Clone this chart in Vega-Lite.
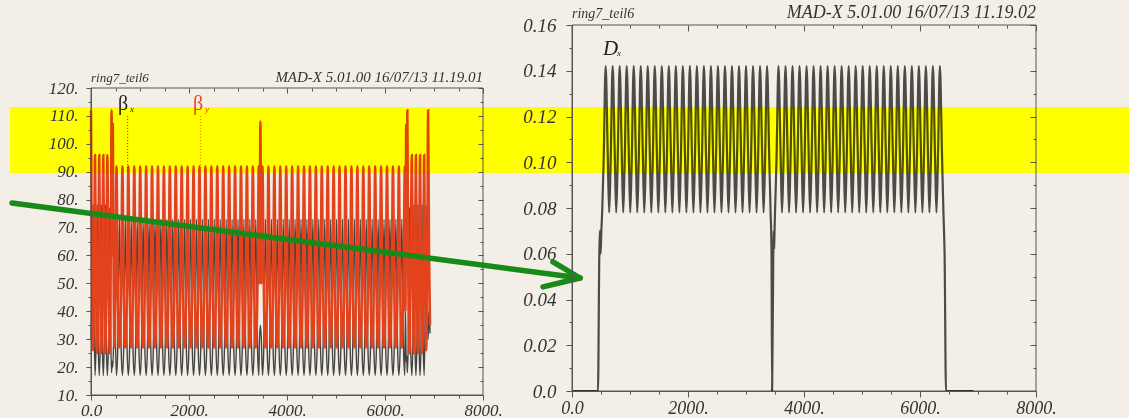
{
"$schema":"https://vega.github.io/schema/vega-lite/v6.json",
"width":1129,"height":418,"autosize":{"type":"none"},"padding":0,
"background":"#f4efe6",
"config":{"view":{"stroke":null},"font":"Liberation Serif","axis":{"labelOverlap":false,"zindex":1,"grid":false,"tickCount":200}},
"datasets":{"lat":[
{"s":0,"bx":30,"by":112,"dx":0},{"s":20,"bx":50,"by":50},{"s":42,"bx":78,"by":26},{"s":62,"bx":40,"by":50},{"s":82,"bx":17,"by":96},{"s":104,"bx":30,"by":50},{"s":125,"bx":78,"by":25},{"s":147,"bx":30,"by":50},{"s":168,"bx":17,"by":96},{"s":190,"bx":30,"by":50},{"s":210,"bx":78,"by":25},{"s":230,"bx":30,"by":50},{"s":251,"bx":17,"by":96},{"s":272,"bx":30,"by":50},{"s":292,"bx":78,"by":25},{"s":312,"bx":30,"by":50},{"s":333,"bx":17,"by":96},{"s":358,"bx":30,"by":50},{"s":384,"bx":77,"by":25},{"s":404,"bx":30,"by":60},{"s":420,"bx":18,"by":112},{"s":432,"bx":22,"by":60},{"s":445,"bx":20,"by":107},{"s":448,"dx":0},{"s":462,"bx":30,"by":50},{"s":470,"dx":0.058},{"s":480,"bx":72,"by":27,"dx":0.07},{"s":494,"dx":0.06},{"s":500,"bx":30,"by":50},{"s":506,"dx":0.07},
{"s":520,"bx":17,"by":92,"dx":0.078},{"s":545,"bx":26,"by":50,"dx":0.1},{"s":580,"bx":73,"by":27,"dx":0.142},{"s":616,"bx":26,"by":50,"dx":0.104},
{"s":641,"bx":17,"by":92,"dx":0.078},{"s":666,"bx":26,"by":50,"dx":0.1},{"s":701,"bx":73,"by":27,"dx":0.142},{"s":737,"bx":26,"by":50,"dx":0.104},
{"s":762,"bx":17,"by":92,"dx":0.078},{"s":787,"bx":26,"by":50,"dx":0.1},{"s":822,"bx":73,"by":27,"dx":0.142},{"s":858,"bx":26,"by":50,"dx":0.104},
{"s":883,"bx":17,"by":92,"dx":0.078},{"s":908,"bx":26,"by":50,"dx":0.1},{"s":943,"bx":73,"by":27,"dx":0.142},{"s":979,"bx":26,"by":50,"dx":0.104},
{"s":1004,"bx":17,"by":92,"dx":0.078},{"s":1029,"bx":26,"by":50,"dx":0.1},{"s":1064,"bx":73,"by":27,"dx":0.142},{"s":1100,"bx":26,"by":50,"dx":0.104},
{"s":1125,"bx":17,"by":92,"dx":0.078},{"s":1150,"bx":26,"by":50,"dx":0.1},{"s":1185,"bx":73,"by":27,"dx":0.142},{"s":1221,"bx":26,"by":50,"dx":0.104},
{"s":1246,"bx":17,"by":92,"dx":0.078},{"s":1271,"bx":26,"by":50,"dx":0.1},{"s":1306,"bx":73,"by":27,"dx":0.142},{"s":1342,"bx":26,"by":50,"dx":0.104},
{"s":1367,"bx":17,"by":92,"dx":0.078},{"s":1392,"bx":26,"by":50,"dx":0.1},{"s":1427,"bx":73,"by":27,"dx":0.142},{"s":1463,"bx":26,"by":50,"dx":0.104},
{"s":1488,"bx":17,"by":92,"dx":0.078},{"s":1513,"bx":26,"by":50,"dx":0.1},{"s":1548,"bx":73,"by":27,"dx":0.142},{"s":1584,"bx":26,"by":50,"dx":0.104},
{"s":1609,"bx":17,"by":92,"dx":0.078},{"s":1634,"bx":26,"by":50,"dx":0.1},{"s":1669,"bx":73,"by":27,"dx":0.142},{"s":1705,"bx":26,"by":50,"dx":0.104},
{"s":1730,"bx":17,"by":92,"dx":0.078},{"s":1755,"bx":26,"by":50,"dx":0.1},{"s":1790,"bx":73,"by":27,"dx":0.142},{"s":1826,"bx":26,"by":50,"dx":0.104},
{"s":1851,"bx":17,"by":92,"dx":0.078},{"s":1876,"bx":26,"by":50,"dx":0.1},{"s":1911,"bx":73,"by":27,"dx":0.142},{"s":1947,"bx":26,"by":50,"dx":0.104},
{"s":1972,"bx":17,"by":92,"dx":0.078},{"s":1997,"bx":26,"by":50,"dx":0.1},{"s":2032,"bx":73,"by":27,"dx":0.142},{"s":2068,"bx":26,"by":50,"dx":0.104},
{"s":2093,"bx":17,"by":92,"dx":0.078},{"s":2118,"bx":26,"by":50,"dx":0.1},{"s":2153,"bx":73,"by":27,"dx":0.142},{"s":2189,"bx":26,"by":50,"dx":0.104},
{"s":2214,"bx":17,"by":92,"dx":0.078},{"s":2239,"bx":26,"by":50,"dx":0.1},{"s":2274,"bx":73,"by":27,"dx":0.142},{"s":2310,"bx":26,"by":50,"dx":0.104},
{"s":2335,"bx":17,"by":92,"dx":0.078},{"s":2360,"bx":26,"by":50,"dx":0.1},{"s":2395,"bx":73,"by":27,"dx":0.142},{"s":2431,"bx":26,"by":50,"dx":0.104},
{"s":2456,"bx":17,"by":92,"dx":0.078},{"s":2481,"bx":26,"by":50,"dx":0.1},{"s":2516,"bx":73,"by":27,"dx":0.142},{"s":2552,"bx":26,"by":50,"dx":0.104},
{"s":2577,"bx":17,"by":92,"dx":0.078},{"s":2602,"bx":26,"by":50,"dx":0.1},{"s":2637,"bx":73,"by":27,"dx":0.142},{"s":2673,"bx":26,"by":50,"dx":0.104},
{"s":2698,"bx":17,"by":92,"dx":0.078},{"s":2723,"bx":26,"by":50,"dx":0.1},{"s":2758,"bx":73,"by":27,"dx":0.142},{"s":2794,"bx":26,"by":50,"dx":0.104},
{"s":2819,"bx":17,"by":92,"dx":0.078},{"s":2844,"bx":26,"by":50,"dx":0.1},{"s":2879,"bx":73,"by":27,"dx":0.142},{"s":2915,"bx":26,"by":50,"dx":0.104},
{"s":2940,"bx":17,"by":92,"dx":0.078},{"s":2965,"bx":26,"by":50,"dx":0.1},{"s":3000,"bx":73,"by":27,"dx":0.142},{"s":3036,"bx":26,"by":50,"dx":0.104},
{"s":3061,"bx":17,"by":92,"dx":0.078},{"s":3086,"bx":26,"by":50,"dx":0.1},{"s":3121,"bx":73,"by":27,"dx":0.142},{"s":3157,"bx":26,"by":50,"dx":0.104},
{"s":3182,"bx":17,"by":92,"dx":0.078},{"s":3207,"bx":26,"by":50,"dx":0.1},{"s":3242,"bx":73,"by":27,"dx":0.142},{"s":3278,"bx":26,"by":50,"dx":0.104},
{"s":3303,"bx":17,"by":92,"dx":0.078},{"s":3328,"bx":26,"by":50,"dx":0.1},{"s":3363,"bx":73,"by":27,"dx":0.142},{"s":3399,"bx":26,"by":50,"dx":0.104},
{"s":3424,"bx":17,"by":92,"dx":0.078},{"s":3434,"dx":0.07},{"s":3438,"bx":30,"by":50},{"s":3440,"dx":0.06},{"s":3450,"dx":0},{"s":3457,"bx":35,"by":108},{"s":3470,"dx":0.058},{"s":3476,"bx":30,"by":50},{"s":3478,"dx":0.07},{"s":3486,"dx":0.062},{"s":3492,"dx":0.07},
{"s":3500,"bx":17,"by":92,"dx":0.078},{"s":3525,"bx":26,"by":50,"dx":0.1},{"s":3560,"bx":73,"by":27,"dx":0.142},{"s":3596,"bx":26,"by":50,"dx":0.104},
{"s":3621,"bx":17,"by":92,"dx":0.078},{"s":3646,"bx":26,"by":50,"dx":0.1},{"s":3681,"bx":73,"by":27,"dx":0.142},{"s":3717,"bx":26,"by":50,"dx":0.104},
{"s":3742,"bx":17,"by":92,"dx":0.078},{"s":3767,"bx":26,"by":50,"dx":0.1},{"s":3802,"bx":73,"by":27,"dx":0.142},{"s":3838,"bx":26,"by":50,"dx":0.104},
{"s":3863,"bx":17,"by":92,"dx":0.078},{"s":3888,"bx":26,"by":50,"dx":0.1},{"s":3923,"bx":73,"by":27,"dx":0.142},{"s":3959,"bx":26,"by":50,"dx":0.104},
{"s":3984,"bx":17,"by":92,"dx":0.078},{"s":4009,"bx":26,"by":50,"dx":0.1},{"s":4044,"bx":73,"by":27,"dx":0.142},{"s":4080,"bx":26,"by":50,"dx":0.104},
{"s":4105,"bx":17,"by":92,"dx":0.078},{"s":4130,"bx":26,"by":50,"dx":0.1},{"s":4165,"bx":73,"by":27,"dx":0.142},{"s":4201,"bx":26,"by":50,"dx":0.104},
{"s":4226,"bx":17,"by":92,"dx":0.078},{"s":4251,"bx":26,"by":50,"dx":0.1},{"s":4286,"bx":73,"by":27,"dx":0.142},{"s":4322,"bx":26,"by":50,"dx":0.104},
{"s":4347,"bx":17,"by":92,"dx":0.078},{"s":4372,"bx":26,"by":50,"dx":0.1},{"s":4407,"bx":73,"by":27,"dx":0.142},{"s":4443,"bx":26,"by":50,"dx":0.104},
{"s":4468,"bx":17,"by":92,"dx":0.078},{"s":4493,"bx":26,"by":50,"dx":0.1},{"s":4528,"bx":73,"by":27,"dx":0.142},{"s":4564,"bx":26,"by":50,"dx":0.104},
{"s":4589,"bx":17,"by":92,"dx":0.078},{"s":4614,"bx":26,"by":50,"dx":0.1},{"s":4649,"bx":73,"by":27,"dx":0.142},{"s":4685,"bx":26,"by":50,"dx":0.104},
{"s":4710,"bx":17,"by":92,"dx":0.078},{"s":4735,"bx":26,"by":50,"dx":0.1},{"s":4770,"bx":73,"by":27,"dx":0.142},{"s":4806,"bx":26,"by":50,"dx":0.104},
{"s":4831,"bx":17,"by":92,"dx":0.078},{"s":4856,"bx":26,"by":50,"dx":0.1},{"s":4891,"bx":73,"by":27,"dx":0.142},{"s":4927,"bx":26,"by":50,"dx":0.104},
{"s":4952,"bx":17,"by":92,"dx":0.078},{"s":4977,"bx":26,"by":50,"dx":0.1},{"s":5012,"bx":73,"by":27,"dx":0.142},{"s":5048,"bx":26,"by":50,"dx":0.104},
{"s":5073,"bx":17,"by":92,"dx":0.078},{"s":5098,"bx":26,"by":50,"dx":0.1},{"s":5133,"bx":73,"by":27,"dx":0.142},{"s":5169,"bx":26,"by":50,"dx":0.104},
{"s":5194,"bx":17,"by":92,"dx":0.078},{"s":5219,"bx":26,"by":50,"dx":0.1},{"s":5254,"bx":73,"by":27,"dx":0.142},{"s":5290,"bx":26,"by":50,"dx":0.104},
{"s":5315,"bx":17,"by":92,"dx":0.078},{"s":5340,"bx":26,"by":50,"dx":0.1},{"s":5375,"bx":73,"by":27,"dx":0.142},{"s":5411,"bx":26,"by":50,"dx":0.104},
{"s":5436,"bx":17,"by":92,"dx":0.078},{"s":5461,"bx":26,"by":50,"dx":0.1},{"s":5496,"bx":73,"by":27,"dx":0.142},{"s":5532,"bx":26,"by":50,"dx":0.104},
{"s":5557,"bx":17,"by":92,"dx":0.078},{"s":5582,"bx":26,"by":50,"dx":0.1},{"s":5617,"bx":73,"by":27,"dx":0.142},{"s":5653,"bx":26,"by":50,"dx":0.104},
{"s":5678,"bx":17,"by":92,"dx":0.078},{"s":5703,"bx":26,"by":50,"dx":0.1},{"s":5738,"bx":73,"by":27,"dx":0.142},{"s":5774,"bx":26,"by":50,"dx":0.104},
{"s":5799,"bx":17,"by":92,"dx":0.078},{"s":5824,"bx":26,"by":50,"dx":0.1},{"s":5859,"bx":73,"by":27,"dx":0.142},{"s":5895,"bx":26,"by":50,"dx":0.104},
{"s":5920,"bx":17,"by":92,"dx":0.078},{"s":5945,"bx":26,"by":50,"dx":0.1},{"s":5980,"bx":73,"by":27,"dx":0.142},{"s":6016,"bx":26,"by":50,"dx":0.104},
{"s":6041,"bx":17,"by":92,"dx":0.078},{"s":6066,"bx":26,"by":50,"dx":0.1},{"s":6101,"bx":73,"by":27,"dx":0.142},{"s":6137,"bx":26,"by":50,"dx":0.104},
{"s":6162,"bx":17,"by":92,"dx":0.078},{"s":6187,"bx":26,"by":50,"dx":0.1},{"s":6222,"bx":73,"by":27,"dx":0.142},{"s":6258,"bx":26,"by":50,"dx":0.104},
{"s":6283,"bx":17,"by":92,"dx":0.078},{"s":6308,"bx":26,"by":50,"dx":0.1},{"s":6343,"bx":73,"by":27,"dx":0.142},{"s":6379,"bx":26,"by":50,"dx":0.104},
{"s":6404,"bx":17,"by":92,"dx":0.078},{"s":6414,"dx":0.07},{"s":6418,"bx":40,"by":40},{"s":6424,"dx":0.06},{"s":6432,"bx":22,"by":107},{"s":6444,"bx":24,"by":60},{"s":6448,"dx":0},{"s":6456,"bx":18,"by":112},{"s":6476,"bx":30,"by":50},{"s":6500,"bx":77,"by":25},{"s":6520,"bx":30,"by":50},{"s":6548,"bx":17,"by":96},{"s":6570,"bx":30,"by":50},{"s":6590,"bx":78,"by":25},{"s":6610,"bx":30,"by":50},{"s":6631,"bx":17,"by":96},{"s":6652,"bx":30,"by":50},{"s":6672,"bx":78,"by":25},{"s":6694,"bx":30,"by":50},{"s":6715,"bx":17,"by":96},{"s":6737,"bx":30,"by":50},{"s":6758,"bx":78,"by":25},{"s":6778,"bx":30,"by":50},{"s":6800,"bx":17,"by":96},{"s":6820,"bx":40,"by":50},{"s":6840,"bx":78,"by":26},{"s":6860,"bx":50,"by":50},{"s":6880,"bx":30,"by":112},{"s":6900,"bx":40,"by":60},{"s":6920,"bx":32,"by":35,"dx":0}
]},
"layer":[
{
"layer":[
{
"layer":[
{
"data":{"values":[{"s0":-1653,"s1":21184,"v0":89.65,"v1":113.0}]},
"mark":{"type":"rect","color":"#ffff00"},
"encoding":{
"x":{"field":"s0","type":"quantitative","scale":{"domain":[0,8000],"range":[91,483],"nice":false,"zero":false},
"axis":{"orient":"bottom","offset":-23,"zindex":1,"tickCount":200,"title":null,"grid":false,"values":[0,500,1000,1500,2000,2500,3000,3500,4000,4500,5000,5500,6000,6500,7000,7500,8000],"labelExpr":"datum.value === 0 ? '0.0' : (datum.value % 2000 === 0 ? datum.value + '.' : '')","tickSize":{"condition":{"test":"datum.value % 2000 === 0","value":5},"value":3},"domainColor":"#555555","tickColor":"#555555","labelColor":"#333333","labelFont":"Liberation Serif","labelFontStyle":"italic","labelFontSize":17,"labelPadding":2,"labelFlush":false,"labelOverlap":false,"labelBound":false}},
"x2":{"field":"s1"},
"y":{"field":"v0","type":"quantitative","scale":{"domain":[10,120],"range":[395,88],"nice":false,"zero":false},
"axis":{"orient":"left","offset":-91,"zindex":1,"tickCount":200,"title":null,"grid":false,"values":[10,15,20,25,30,35,40,45,50,55,60,65,70,75,80,85,90,95,100,105,110,115,120],"labelExpr":"datum.value % 10 === 0 ? datum.value + '.' : ''","tickSize":{"condition":{"test":"datum.value % 10 === 0","value":5},"value":3},"domainColor":"#555555","tickColor":"#555555","labelColor":"#333333","labelFont":"Liberation Serif","labelFontStyle":"italic","labelFontSize":17,"labelPadding":8,"labelOverlap":false,"labelBound":false,"labelFlush":false}},
"y2":{"field":"v1"}
}
},
{
"data":{"name":"lat"},
"transform":[{"filter":"isValid(datum.bx)"}],
"mark":{"type":"line","color":"#444444","strokeWidth":1.4,"interpolate":"monotone"},
"encoding":{
"x":{"field":"s","type":"quantitative","scale":{"domain":[0,8000],"range":[91,483],"nice":false,"zero":false}},
"y":{"field":"bx","type":"quantitative","scale":{"domain":[10,120],"range":[395,88],"nice":false,"zero":false}}
}
},
{
"data":{"name":"lat"},
"transform":[{"filter":"isValid(datum.by)"}],
"mark":{"type":"line","color":"#e2431d","strokeWidth":2.5,"interpolate":"monotone"},
"encoding":{
"x":{"field":"s","type":"quantitative","scale":{"domain":[0,8000],"range":[91,483],"nice":false,"zero":false}},
"y":{"field":"by","type":"quantitative","scale":{"domain":[10,120],"range":[395,88],"nice":false,"zero":false}}
}
},
{
"data":{"values":[{"s":749,"v1":110,"v2":90,"c":"bx"},{"s":2239,"v1":110,"v2":90,"c":"by"}]},
"mark":{"type":"rule","strokeWidth":0.8,"strokeDash":[1,2]},
"encoding":{
"x":{"field":"s","type":"quantitative","scale":{"domain":[0,8000],"range":[91,483],"nice":false,"zero":false}},
"y":{"field":"v1","type":"quantitative","scale":{"domain":[10,120],"range":[395,88],"nice":false,"zero":false}},
"y2":{"field":"v2"},
"color":{"field":"c","type":"nominal","scale":{"domain":["bx","by"],"range":["#222222","#e8452a"]},"legend":null}
}
},
{
"data":{"values":[{"s":551,"v":112.1,"t":"β","c":"bx"},{"s":2082,"v":112.1,"t":"β","c":"by"}]},
"mark":{"type":"text","align":"left","baseline":"alphabetic","fontSize":20,"font":"Liberation Serif"},
"encoding":{
"x":{"field":"s","type":"quantitative","scale":{"domain":[0,8000],"range":[91,483],"nice":false,"zero":false}},
"y":{"field":"v","type":"quantitative","scale":{"domain":[10,120],"range":[395,88],"nice":false,"zero":false}},
"text":{"field":"t"},
"color":{"field":"c","type":"nominal","scale":{"domain":["bx","by"],"range":["#222222","#e8452a"]},"legend":null}
}
},
{
"data":{"values":[{"s":551,"v":112.1,"t":"x","c":"bx"},{"s":2082,"v":112.1,"t":"y","c":"by"}]},
"mark":{"type":"text","align":"left","baseline":"alphabetic","fontSize":9,"fontStyle":"italic","dx":12,"dy":2,"font":"Liberation Serif"},
"encoding":{
"x":{"field":"s","type":"quantitative","scale":{"domain":[0,8000],"range":[91,483],"nice":false,"zero":false}},
"y":{"field":"v","type":"quantitative","scale":{"domain":[10,120],"range":[395,88],"nice":false,"zero":false}},
"text":{"field":"t"},
"color":{"field":"c","type":"nominal","scale":{"domain":["bx","by"],"range":["#222222","#e8452a"]},"legend":null}
}
},
{
"data":{"values":[{"s":0,"v":120,"t":"ring7_teil6"}]},
"mark":{"type":"text","align":"left","baseline":"alphabetic","dy":-6,"fontSize":13,"fontStyle":"italic","font":"Liberation Serif","color":"#333333"},
"encoding":{
"x":{"field":"s","type":"quantitative","scale":{"domain":[0,8000],"range":[91,483],"nice":false,"zero":false}},
"y":{"field":"v","type":"quantitative","scale":{"domain":[10,120],"range":[395,88],"nice":false,"zero":false}},
"text":{"field":"t"}
}
},
{
"data":{"values":[{"s":8000,"v":120,"t":"MAD-X 5.01.00  16/07/13 11.19.01"}]},
"mark":{"type":"text","align":"right","baseline":"alphabetic","dy":-6,"fontSize":15,"fontStyle":"italic","font":"Liberation Serif","color":"#333333"},
"encoding":{
"x":{"field":"s","type":"quantitative","scale":{"domain":[0,8000],"range":[91,483],"nice":false,"zero":false}},
"y":{"field":"v","type":"quantitative","scale":{"domain":[10,120],"range":[395,88],"nice":false,"zero":false}},
"text":{"field":"t"}
}
},
{
"data":{"values":[{"s0":-1653,"s1":21184,"v0":89.65,"v1":113.0}]},
"mark":{"type":"rect","color":"#ffff00","blend":"multiply"},
"encoding":{
"x":{"field":"s0","type":"quantitative","scale":{"domain":[0,8000],"range":[91,483],"nice":false,"zero":false}},
"x2":{"field":"s1"},
"y":{"field":"v0","type":"quantitative","scale":{"domain":[10,120],"range":[395,88],"nice":false,"zero":false}},
"y2":{"field":"v1"}
}
}
]
},
{
"data":{"values":[{"s0":0,"s1":8000,"v0":10,"v1":120}]},
"mark":{"type":"rect","filled":false,"color":"#555555","strokeWidth":1},
"encoding":{
"x":{"field":"s0","type":"quantitative","scale":{"domain":[0,8000],"range":[91,483],"nice":false,"zero":false},
"axis":{"orient":"bottom","offset":-330,"zindex":1,"tickCount":200,"title":null,"grid":false,"labels":false,"domain":false,"values":[0,500,1000,1500,2000,2500,3000,3500,4000,4500,5000,5500,6000,6500,7000,7500,8000],"tickColor":"#555555","tickSize":{"condition":{"test":"datum.value % 2000 === 0","value":5},"value":3}}},
"x2":{"field":"s1"},
"y":{"field":"v0","type":"quantitative","scale":{"domain":[10,120],"range":[395,88],"nice":false,"zero":false},
"axis":{"orient":"left","offset":-483,"zindex":1,"tickCount":200,"title":null,"grid":false,"labels":false,"domain":false,"values":[10,15,20,25,30,35,40,45,50,55,60,65,70,75,80,85,90,95,100,105,110,115,120],"tickColor":"#555555","tickSize":{"condition":{"test":"datum.value % 10 === 0","value":5},"value":3}}},
"y2":{"field":"v1"}
}
}
],
"resolve":{"axis":{"x":"independent","y":"independent"}}
},
{
"layer":[
{
"data":{"values":[{"s0":0,"s1":8000,"v0":0,"v1":0.16}]},
"mark":{"type":"rect","filled":false,"color":"#555555","strokeWidth":1},
"encoding":{
"x":{"field":"s0","type":"quantitative","scale":{"domain":[0,8000],"range":[572,1036],"nice":false,"zero":false},
"axis":{"orient":"bottom","offset":-393,"zindex":1,"tickCount":200,"title":null,"grid":false,"labels":false,"domain":false,"values":[0,500,1000,1500,2000,2500,3000,3500,4000,4500,5000,5500,6000,6500,7000,7500,8000],"tickColor":"#555555","tickSize":{"condition":{"test":"datum.value % 2000 === 0","value":6},"value":3}}},
"x2":{"field":"s1"},
"y":{"field":"v0","type":"quantitative","scale":{"domain":[0,0.16],"range":[391,25],"nice":false,"zero":false},
"axis":{"orient":"left","offset":-1036,"zindex":1,"tickCount":200,"title":null,"grid":false,"labels":false,"domain":false,"values":[0,0.01,0.02,0.03,0.04,0.05,0.06,0.07,0.08,0.09,0.1,0.11,0.12,0.13,0.14,0.15,0.16],"tickColor":"#555555","tickSize":{"condition":{"test":"round(datum.value*100) % 2 === 0","value":6},"value":3}}},
"y2":{"field":"v1"}
}
},
{
"layer":[
{
"data":{"name":"lat"},
"transform":[{"filter":"isValid(datum.dx)"}],
"mark":{"type":"line","color":"#505050","strokeWidth":2.2,"blend":"multiply","interpolate":"monotone"},
"encoding":{
"x":{"field":"s","type":"quantitative","scale":{"domain":[0,8000],"range":[572,1036],"nice":false,"zero":false},
"axis":{"orient":"bottom","offset":-27,"zindex":1,"tickCount":200,"title":null,"grid":false,"values":[0,500,1000,1500,2000,2500,3000,3500,4000,4500,5000,5500,6000,6500,7000,7500,8000],"labelExpr":"datum.value === 0 ? '0.0' : (datum.value % 2000 === 0 ? datum.value + '.' : '')","tickSize":{"condition":{"test":"datum.value % 2000 === 0","value":6},"value":3},"domainColor":"#555555","tickColor":"#555555","labelColor":"#333333","labelFont":"Liberation Serif","labelFontStyle":"italic","labelFontSize":18,"labelPadding":2,"labelFlush":false,"labelOverlap":false,"labelBound":false}},
"y":{"field":"dx","type":"quantitative","scale":{"domain":[0,0.16],"range":[391,25],"nice":false,"zero":false},
"axis":{"orient":"left","offset":-572,"zindex":1,"tickCount":200,"title":null,"grid":false,"values":[0,0.01,0.02,0.03,0.04,0.05,0.06,0.07,0.08,0.09,0.1,0.11,0.12,0.13,0.14,0.15,0.16],"labelExpr":"round(datum.value*100) % 2 === 0 ? (datum.value === 0 ? '0.0' : format(datum.value, '.2f')) : ''","tickSize":{"condition":{"test":"round(datum.value*100) % 2 === 0","value":6},"value":3},"domainColor":"#555555","tickColor":"#555555","labelColor":"#333333","labelFont":"Liberation Serif","labelFontStyle":"italic","labelFontSize":19,"labelPadding":10,"labelOverlap":false,"labelBound":false,"labelFlush":false}}
}
},
{
"data":{"values":[{"s":534,"v":0.1469,"t":"D"}]},
"mark":{"type":"text","align":"left","baseline":"alphabetic","fontSize":21,"fontStyle":"italic","font":"Liberation Serif","color":"#222222"},
"encoding":{
"x":{"field":"s","type":"quantitative","scale":{"domain":[0,8000],"range":[572,1036],"nice":false,"zero":false}},
"y":{"field":"v","type":"quantitative","scale":{"domain":[0,0.16],"range":[391,25],"nice":false,"zero":false}},
"text":{"field":"t"}
}
},
{
"data":{"values":[{"s":534,"v":0.1469,"t":"x"}]},
"mark":{"type":"text","align":"left","baseline":"alphabetic","fontSize":9,"fontStyle":"italic","dx":14,"dy":1,"font":"Liberation Serif","color":"#222222"},
"encoding":{
"x":{"field":"s","type":"quantitative","scale":{"domain":[0,8000],"range":[572,1036],"nice":false,"zero":false}},
"y":{"field":"v","type":"quantitative","scale":{"domain":[0,0.16],"range":[391,25],"nice":false,"zero":false}},
"text":{"field":"t"}
}
},
{
"data":{"values":[{"s":0,"v":0.16,"t":"ring7_teil6"}]},
"mark":{"type":"text","align":"left","baseline":"alphabetic","dy":-7,"fontSize":14,"fontStyle":"italic","font":"Liberation Serif","color":"#333333"},
"encoding":{
"x":{"field":"s","type":"quantitative","scale":{"domain":[0,8000],"range":[572,1036],"nice":false,"zero":false}},
"y":{"field":"v","type":"quantitative","scale":{"domain":[0,0.16],"range":[391,25],"nice":false,"zero":false}},
"text":{"field":"t"}
}
},
{
"data":{"values":[{"s":8000,"v":0.16,"t":"MAD-X 5.01.00  16/07/13 11.19.02"}]},
"mark":{"type":"text","align":"right","baseline":"alphabetic","dy":-7,"fontSize":18,"fontStyle":"italic","font":"Liberation Serif","color":"#333333"},
"encoding":{
"x":{"field":"s","type":"quantitative","scale":{"domain":[0,8000],"range":[572,1036],"nice":false,"zero":false}},
"y":{"field":"v","type":"quantitative","scale":{"domain":[0,0.16],"range":[391,25],"nice":false,"zero":false}},
"text":{"field":"t"}
}
},
{
"data":{"values":[{"s":-9655,"v":0.0822,"s2":138,"v2":0.0494},{"s":-328,"v":0.0564,"s2":138,"v2":0.0494},{"s":-500,"v":0.0455,"s2":138,"v2":0.0494}]},
"mark":{"type":"rule","color":"#178a17","strokeWidth":5.5,"strokeCap":"round"},
"encoding":{
"x":{"field":"s","type":"quantitative","scale":{"domain":[0,8000],"range":[572,1036],"nice":false,"zero":false}},
"x2":{"field":"s2"},
"y":{"field":"v","type":"quantitative","scale":{"domain":[0,0.16],"range":[391,25],"nice":false,"zero":false}},
"y2":{"field":"v2"}
}
}
]
}
],
"resolve":{"axis":{"x":"independent","y":"independent"}}
}
],
"resolve":{"scale":{"x":"independent","y":"independent"}}
}
